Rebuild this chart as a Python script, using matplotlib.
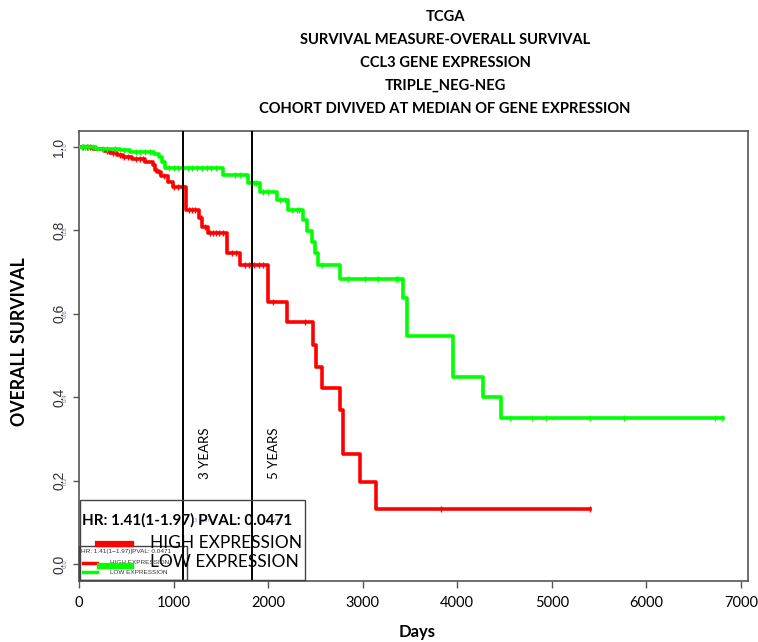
import numpy as np
import matplotlib
matplotlib.use("Agg")
import matplotlib.pyplot as plt
import matplotlib.transforms as mtransforms
from matplotlib.lines import Line2D
from matplotlib.patches import Rectangle

# Kaplan-Meier steps (day of event, survival after event)
high_times = [0, 150, 260, 330, 400, 470, 560, 700, 780, 800, 830, 870, 940, 990,
              1131, 1269, 1301, 1364, 1565, 1702, 1998, 2199, 2474, 2506, 2570,
              2760, 2795, 2971, 3137]
high_surv = [1.0, 0.995, 0.990, 0.985, 0.980, 0.975, 0.970, 0.965, 0.957, 0.945,
             0.940, 0.930, 0.915, 0.903, 0.849, 0.830, 0.809, 0.794, 0.746, 0.717,
             0.627, 0.581, 0.525, 0.473, 0.423, 0.368, 0.264, 0.197, 0.132]
high_end = 5403
high_censor = [40, 80, 120, 300, 360, 430, 480, 520, 600, 640, 680, 850, 900, 1000,
               1050, 1100, 1160, 1190, 1230, 1290, 1330, 1380, 1420, 1450, 1480,
               1520, 1620, 1660, 1760, 1800, 1850, 1900, 1950, 2050, 2390, 3833, 5403]

low_times = [0, 180, 430, 540, 790, 850, 880, 910, 1527, 1790, 1914, 2090, 2213,
             2372, 2414, 2460, 2500, 2530, 2760, 3422, 3465, 3951, 4275, 4462]
low_surv = [1.0, 0.996, 0.993, 0.989, 0.983, 0.975, 0.965, 0.950, 0.933, 0.913,
            0.893, 0.873, 0.849, 0.825, 0.799, 0.773, 0.745, 0.717, 0.683, 0.637,
            0.547, 0.449, 0.401, 0.350]
low_end = 6813
low_censor = [30, 60, 100, 150, 250, 300, 380, 480, 600, 650, 700, 750, 950, 1000,
              1050, 1100, 1150, 1200, 1250, 1300, 1350, 1400, 1450, 1650, 1700,
              1850, 1870, 1950, 2000, 2130, 2180, 2250, 2300, 2330, 2570, 2848,
              3024, 3165, 3352, 3370, 4557, 4793, 4935, 5403, 5763, 6725, 6795]

year_marks = [1095, 1825]
year_labels = ["3 YEARS", "5 YEARS"]

title_lines = ["TCGA", "SURVIVAL MEASURE-OVERALL SURVIVAL", "CCL3 GENE EXPRESSION",
               "TRIPLE_NEG-NEG", "COHORT DIVIVED AT MEDIAN OF GENE EXPRESSION"]
hr_text = "HR: 1.41(1-1.97) PVAL: 0.0471"
hr_text_small = "HR: 1.41(1\u22121.97)|PVAL: 0.0471"

W, H = 758, 642
TXT = "Lato"


def fx(px):
    return px / W


def fy(py):
    return 1 - py / H


fig = plt.figure(figsize=(W / 100, H / 100), dpi=100)
ax = fig.add_axes([fx(79), fy(581), fx(748) - fx(79), fy(130.7) - fy(581)])
ax.set_xlim(0, 7074)
ax.set_ylim(-0.041, 1.039)


def km_curve(times, surv, end, censor, color):
    t = np.append(times, end)
    s = np.append(surv, surv[-1])
    ax.step(t, s, where="post", color=color, lw=2.6, zorder=3)
    idx = np.searchsorted(times, censor, side="right") - 1
    ax.plot(censor, np.array(surv)[idx], ls="none", marker="|", ms=5, mew=1,
            color=color, zorder=3)


for d, lab in zip(year_marks, year_labels):
    ax.axvline(d, color="black", lw=1.4, zorder=4)
    ax.text(d + 240, 0.265, lab, rotation=90, ha="center", va="center",
            fontsize=9.5, family=TXT)
    ax.text(d + 215, 0.105, lab.lower(), fontsize=3.5, color="#7f9fc8",
            ha="center", va="center")

km_curve(high_times, high_surv, high_end, high_censor, "#ff0000")
km_curve(low_times, low_surv, low_end, low_censor, "#00ff00")

# axes frame and ticks
for sp in ax.spines.values():
    sp.set_color("#555555")
    sp.set_linewidth(1.2)
ax.set_xticks(np.arange(0, 7001, 1000))
ax.set_yticks([0.0, 0.2, 0.4, 0.6, 0.8, 1.0])
ax.tick_params(axis="x", length=5, width=1, color="#555555", labelsize=10.5, pad=6)
ax.tick_params(axis="y", length=4, width=1, color="#555555", labelsize=10,
               labelrotation=90, labelcolor="#333333", pad=5)
for lab in ax.get_xticklabels():
    lab.set_family(TXT)
for lab in ax.get_yticklabels():
    lab.set_family("Liberation Sans")
    lab.set_va("center")
small_tick_tr = mtransforms.blended_transform_factory(fig.transFigure, ax.transData)
for v in [0.0, 0.2, 0.4, 0.6, 0.8, 1.0]:
    ax.text(fx(65), v, f"{v:.1f}", transform=small_tick_tr, rotation=90,
            fontsize=4, color="#6a7a9a", ha="center", va="center")

# titles and axis labels
for i, line in enumerate(title_lines):
    fig.text(fx(445), fy(17 + i * 23), line, ha="center", va="center",
             fontsize=10.6, fontweight="bold", family=TXT)
fig.text(fx(20), fy(342), "OVERALL SURVIVAL", rotation=90, ha="center", va="center",
         fontsize=12.8, fontweight="bold", family=TXT)
fig.text(fx(417), fy(632), "Days", ha="center", va="center",
         fontsize=12, fontweight="bold", family=TXT)

# large legend
fig.add_artist(Rectangle((fx(80), fy(580)), fx(305) - fx(80), fy(500) - fy(580),
                         transform=fig.transFigure, fill=False, ec="#444444", lw=1))
fig.text(fx(187), fy(520), hr_text, ha="center", va="center", fontsize=11,
         fontweight="bold", family=TXT)
fig.add_artist(Line2D([fx(98), fx(131)], [fy(544), fy(544)], transform=fig.transFigure,
                      color="#ff0000", lw=4.5))
fig.add_artist(Line2D([fx(100), fx(131)], [fy(566), fy(566)], transform=fig.transFigure,
                      color="#00ff00", lw=4.5, zorder=5))
fig.text(fx(150), fy(543), "HIGH EXPRESSION", ha="left", va="center", fontsize=12.5,
         family=TXT)
fig.text(fx(150), fy(562), "LOW EXPRESSION", ha="left", va="center", fontsize=12.5,
         family=TXT)

# small legend
fig.add_artist(Rectangle((fx(79), fy(580)), fx(187) - fx(79), fy(546) - fy(580),
                         transform=fig.transFigure, fill=False, ec="#444444", lw=1))
fig.text(fx(81), fy(551.5), hr_text_small, ha="left", va="center", fontsize=4.6,
         family="Liberation Sans", color="#333333")
fig.add_artist(Line2D([fx(83), fx(97)], [fy(563), fy(563)], transform=fig.transFigure,
                      color="#ff0000", lw=2.5))
fig.add_artist(Line2D([fx(83), fx(97)], [fy(572), fy(572)], transform=fig.transFigure,
                      color="#00ff00", lw=2.5))
fig.text(fx(110), fy(563), "HIGH EXPRESSION", ha="left", va="center", fontsize=4.6,
         family="Liberation Sans", color="#333333")
fig.text(fx(110), fy(572), "LOW EXPRESSION", ha="left", va="center", fontsize=4.6,
         family="Liberation Sans", color="#333333")

fig.savefig("out.png", dpi=100)
